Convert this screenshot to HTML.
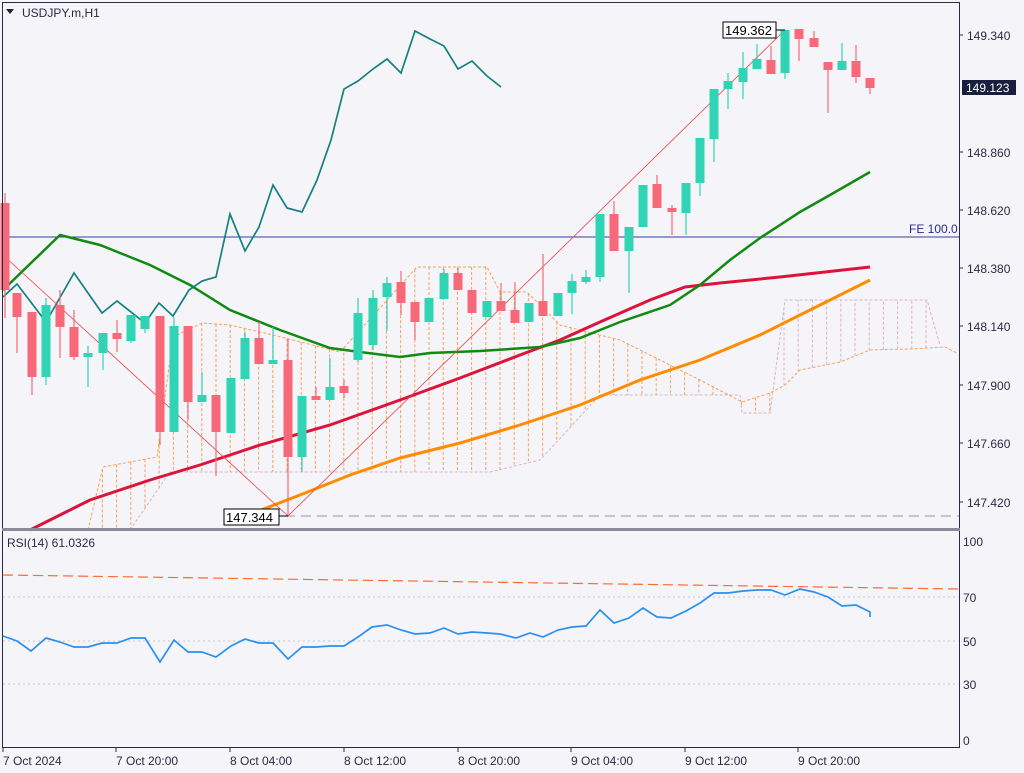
<!DOCTYPE html>
<html><head><meta charset="utf-8"><style>
html,body{margin:0;padding:0;background:#f5f5f9;}
svg{display:block;font-family:"Liberation Sans",Tahoma,sans-serif;}
</style></head><body>
<svg id="s" width="1024" height="773" viewBox="0 0 1024 773" xmlns="http://www.w3.org/2000/svg">
<rect width="1024" height="773" fill="#f5f5f9"/>
<g id="cloud"></g>
<g id="main"></g>
<g id="axis"></g>
</svg>
<script>
const NS="http://www.w3.org/2000/svg";
function el(p,t,a,txt){const e=document.createElementNS(NS,t);for(const k in a)e.setAttribute(k,a[k]);if(txt!==undefined)e.textContent=txt;p.appendChild(e);return e;}
const cloud=document.getElementById('cloud'),main=document.getElementById('main'),ax=document.getElementById('axis');
function pts(a){return a.map(p=>p.join(',')).join(' ');}
function interp(a,x){if(x<=a[0][0])return a[0][1];for(let i=1;i<a.length;i++){if(x<=a[i][0]){const t=(x-a[i-1][0])/(a[i][0]-a[i-1][0]);return a[i-1][1]+t*(a[i][1]-a[i-1][1]);}}return a[a.length-1][1];}
// ichimoku
const spanA=[[88,530],[103,467],[157,457],[173,337],[202,323],[230,325],[273,335],[340,352],[417,267],[487,267],[500,292],[527,292],[560,325],[620,340],[700,380],[742,402],[770,393],[785,385],[800,370],[840,362],[870,350],[910,349],[945,347],[957,353]];
const spanB=[[130,530],[170,472],[490,472],[540,460],[600,395],[740,395],[742,413],[770,413],[785,300],[927,300],[940,345]];
el(cloud,'polyline',{points:pts(spanA),fill:'none',stroke:'#f5a25a','stroke-width':1,'stroke-dasharray':'3,2'});
el(cloud,'polyline',{points:pts(spanB),fill:'none',stroke:'#d8b4c8','stroke-width':1,'stroke-dasharray':'3,2'});
for(let i=0;i<66;i++){const x=3+i*14.2;if(x<95||x>935)continue;const a=interp(spanA,x),b=interp(spanB,x);
 el(cloud,'line',{x1:x,y1:a,x2:x,y2:b,stroke:a<b?'#f5a25a':'#d8b4c8','stroke-width':1,'stroke-dasharray':'3,2'});}
// horizontal lines
el(main,'line',{x1:2,y1:237,x2:960,y2:237,stroke:'#3a3aa8','stroke-width':1});
el(main,'text',{x:909,y:233,fill:'#2a2a90','font-size':12},'FE 100.0');
el(main,'line',{x1:285,y1:516,x2:960,y2:516,stroke:'#999','stroke-width':1,'stroke-dasharray':'10,6'});
// MAs
el(main,'polyline',{points:pts([[230,522],[300,495],[350,475],[400,458],[460,443],[520,425],[580,405],[640,380],[700,360],[760,335],[800,315],[840,295],[870,280]]),fill:'none',stroke:'#ff8c00','stroke-width':3});
el(main,'polyline',{points:pts([[30,530],[90,500],[150,480],[200,465],[260,445],[330,425],[400,400],[460,378],[520,355],[560,340],[600,322],[650,300],[685,287],[720,283],[780,277],[870,267]]),fill:'none',stroke:'#dc143c','stroke-width':3});
el(main,'polyline',{points:pts([[3,290],[60,235],[100,245],[150,265],[190,285],[230,310],[280,330],[330,348],[360,352],[400,357],[430,353],[480,351],[540,347],[580,338],[620,322],[670,305],[700,285],[730,260],[760,238],[800,212],[830,195],[870,172]]),fill:'none',stroke:'#108a10','stroke-width':2.5});
// chikou
el(main,'polyline',{points:pts([[3,297],[17,284],[46,322],[74,273],[102,313],[117,301],[145,323],[159,303],[173,316],[189,290],[202,281],[216,277],[230,214],[245,251],[259,227],[273,185],[287,208],[302,212],[317,180],[331,140],[344,89],[358,81],[373,69],[387,59],[401,73],[415,31],[430,39],[444,46],[458,69],[472,61],[487,76],[501,87]]),fill:'none',stroke:'#158080','stroke-width':1.7});
// fib lines
el(main,'polyline',{points:'3,255 288,516 785,30',fill:'none',stroke:'#f04040','stroke-width':0.8});
// candles: [x,open,close,high,low] in px (bull if close<open)
const C=[[5,203,290,193,318],[17,293,317,293,353],[32,312,377,312,395],[46,377,305,298,385],[60,305,327,290,358],[74,327,357,310,360],[88,357,353,346,387],[103,353,333,333,370],[117,333,339,320,352],[131,341,315,315,343],[145,329,316,316,333],[160,316,432,316,445],[174,432,326,317,432],[188,326,402,326,420],[202,402,395,372,402],[216,395,432,395,476],[231,433,378,378,433],[245,379,338,332,379],[259,338,364,322,364],[273,364,360,327,364],[288,360,457,339,517],[302,457,396,396,472],[316,396,400,387,400],[330,400,387,358,400],[344,386,393,380,398],[358,360,313,298,362],[373,345,298,290,350],[387,297,283,277,331],[401,282,303,271,315],[415,302,322,302,340],[429,322,298,298,322],[444,299,273,269,299],[458,273,290,268,290],[472,290,313,290,313],[487,317,301,301,317],[501,301,311,283,311],[515,310,323,282,323],[529,322,303,303,322],[543,301,316,254,316],[558,316,293,293,316],[572,293,281,274,314],[586,282,277,270,284],[600,277,214,214,282],[614,214,251,201,251],[629,251,227,227,293],[643,227,185,185,227],[657,184,208,175,208],[672,208,212,205,235],[686,213,183,183,235],[700,183,138,138,196],[714,139,89,89,162],[728,89,81,73,109],[743,82,68,52,99],[757,69,59,44,69],[771,60,74,46,74],[785,73,30,30,79],[799,29,39,29,61],[814,38,47,31,47],[828,62,70,62,113],[842,70,61,43,70],[856,61,77,45,83],[870,78,88,78,94]];
C.forEach(c=>{const[x,o,cl,h,l]=c;const bull=cl<o;const col=bull?'#31d3b5':'#f76878';
 el(main,'line',{x1:x,y1:h,x2:x,y2:l,stroke:col,'stroke-width':1.2});
 el(main,'rect',{x:x-4.5,y:Math.min(o,cl),width:9,height:Math.max(1.5,Math.abs(o-cl)),fill:col});});
// labels boxes
el(main,'rect',{x:723,y:22,width:53,height:16,fill:'#fff',stroke:'#000','stroke-width':1});
el(main,'text',{x:725,y:35,'font-size':13,fill:'#000'},'149.362');
el(main,'line',{x1:776,y1:30,x2:785,y2:30,stroke:'#000'});
el(main,'rect',{x:224,y:509,width:55,height:16,fill:'#fff',stroke:'#000','stroke-width':1});
el(main,'text',{x:226,y:522,'font-size':13,fill:'#000'},'147.344');
el(main,'line',{x1:279,y1:516,x2:288,y2:516,stroke:'#000'});
// frame
el(ax,'rect',{x:2.5,y:2.5,width:957,height:745,fill:'none',stroke:'#2a2a44','stroke-width':1});
el(ax,'rect',{x:2,y:528,width:958,height:3,fill:'#8a8a98'});
el(ax,'text',{x:22,y:17,'font-size':12,fill:'#2a2a44'},'USDJPY.m,H1');
el(ax,'polygon',{points:'6,9 14,9 10,14',fill:'#222'});
// price axis
[[35,'149.340'],[152,'148.860'],[210,'148.620'],[268,'148.380'],[326,'148.140'],[385,'147.900'],[443,'147.660'],[502,'147.420']].forEach(p=>{
 el(ax,'line',{x1:960,y1:p[0],x2:963,y2:p[0],stroke:'#2a2a44'});
 el(ax,'text',{x:967,y:p[0]+5,'font-size':12,fill:'#2a2a44'},p[1]);});
el(ax,'rect',{x:962,y:80,width:54,height:15,fill:'#1a1f3d'});
el(ax,'text',{x:966,y:92,'font-size':12,fill:'#fff'},'149.123');
// RSI
el(ax,'text',{x:7,y:547,'font-size':12,fill:'#2a2a44'},'RSI(14) 61.0326');
[597,641,684].forEach(y=>el(ax,'line',{x1:3,y1:y,x2:959,y2:y,stroke:'#c8c8cc','stroke-dasharray':'2,3'}));
[[541,'100'],[597,'70'],[641,'50'],[684,'30'],[740,'0']].forEach(p=>{el(ax,'text',{x:963,y:p[0]+5,'font-size':12,fill:'#2a2a44'},p[1]);});
el(ax,'line',{x1:3,y1:575,x2:958,y2:589,stroke:'#ff6a30','stroke-width':1.2,'stroke-dasharray':'10,5'});
el(ax,'polyline',{points:pts([[3,636],[17,641],[31,651],[46,638],[60,642],[74,647],[88,647],[102,643],[117,643],[131,638],[145,638],[160,662],[174,640],[188,652],[202,652],[216,657],[231,646],[245,639],[259,643],[273,643],[288,659],[302,647],[316,647],[330,646],[344,646],[358,637],[372,627],[387,625],[401,630],[415,634],[430,633],[444,628],[458,634],[472,632],[487,633],[500,634],[516,638],[530,633],[543,637],[558,630],[572,627],[586,626],[600,610],[614,623],[629,618],[643,608],[657,617],[671,618],[686,611],[700,603],[714,593],[728,593],[743,591],[757,590],[771,590],[785,595],[800,589],[814,592],[828,597],[842,606],[856,605],[870,612],[870,617]]),fill:'none',stroke:'#2a90f0','stroke-width':1.7});
// time axis
[[3,'7 Oct 2024'],[116,'7 Oct 20:00'],[230,'8 Oct 04:00'],[344,'8 Oct 12:00'],[458,'8 Oct 20:00'],[571,'9 Oct 04:00'],[685,'9 Oct 12:00'],[798,'9 Oct 20:00']].forEach(p=>{
 el(ax,'line',{x1:p[0],y1:748,x2:p[0],y2:752,stroke:'#2a2a44'});
 el(ax,'text',{x:p[0],y:765,'font-size':12,fill:'#2a2a44'},p[1]);});
</script>
</body></html>
